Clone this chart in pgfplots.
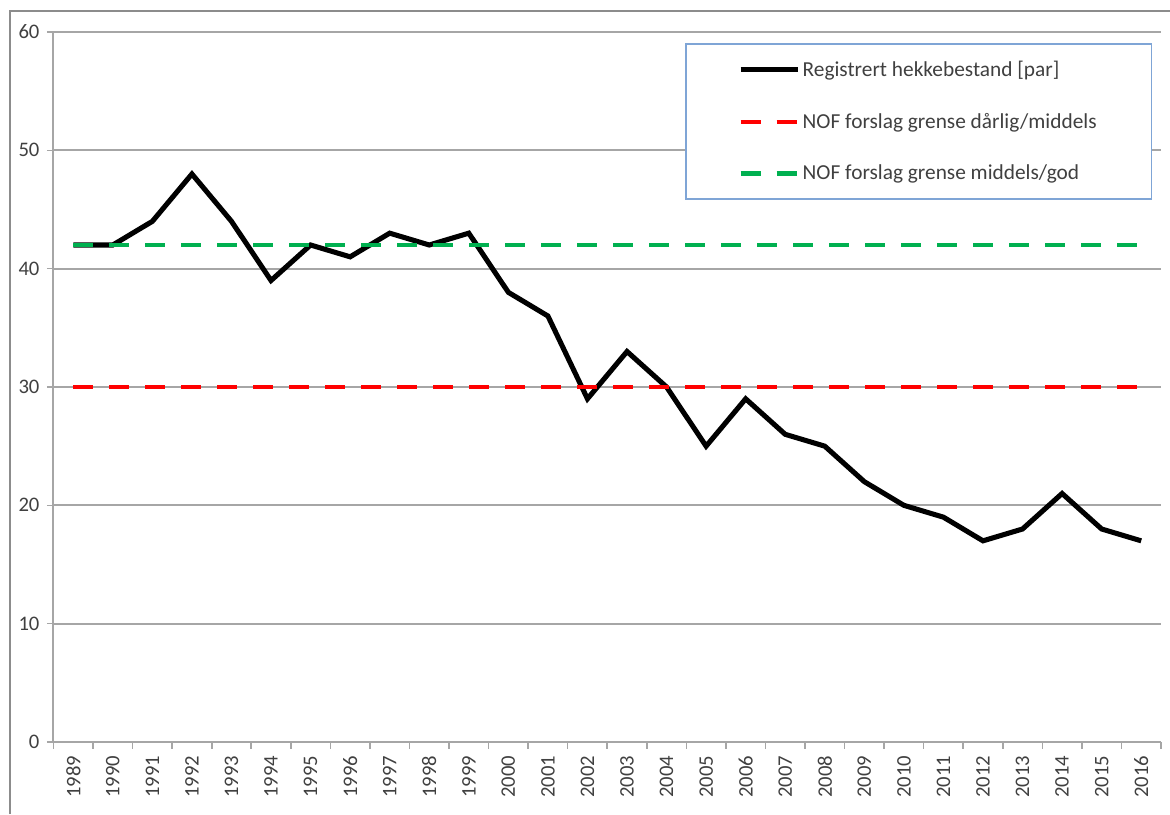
\documentclass[border=0pt]{standalone}
\usepackage{fontspec}
\setmainfont{Carlito}
\usepackage{pgfplots}
\pgfplotsset{compat=1.18}
\definecolor{gridgrey}{HTML}{A6A6A6}
\definecolor{framegrey}{HTML}{8C8C8C}
\definecolor{ticktext}{HTML}{404040}
\definecolor{nofred}{HTML}{FF0000}
\definecolor{nofgreen}{HTML}{00B050}
\definecolor{legendblue}{HTML}{7FA5D6}

\pgfplotstableread{
x year n
0 1989 42
1 1990 42
2 1991 44
3 1992 48
4 1993 44
5 1994 39
6 1995 42
7 1996 41
8 1997 43
9 1998 42
10 1999 43
11 2000 38
12 2001 36
13 2002 29
14 2003 33
15 2004 30
16 2005 25
17 2006 29
18 2007 26
19 2008 25
20 2009 22
21 2010 20
22 2011 19
23 2012 17
24 2013 18
25 2014 21
26 2015 18
27 2016 17
}\hekk

\begin{document}
\begin{tikzpicture}
  \useasboundingbox (0,0) rectangle (877.5pt,610.5pt);
  \draw[framegrey, line width=1.5pt] (7.5pt,0) -- (7.5pt,602.25pt) -- (877.5pt,602.25pt);
  \begin{axis}[
      at={(40.125pt,54pt)}, anchor=south west,
      scale only axis,
      width=830.6pt, height=532.5pt,
      xmin=-0.5, xmax=27.5,
      ymin=0, ymax=60,
      axis lines*=left,
      axis line style={gridgrey, line width=1.5pt},
      xtick={0,...,27},
      xticklabels={1989,1990,1991,1992,1993,1994,1995,1996,1997,1998,1999,2000,2001,2002,2003,2004,2005,2006,2007,2008,2009,2010,2011,2012,2013,2014,2015,2016},
      major x tick style={draw=none},
      minor xtick={-0.5,0.5,...,27.5},
      minor x tick style={gridgrey, line width=1.2pt},
      minor tick length=5pt,
      ytick={0,10,...,60},
      major y tick style={gridgrey, line width=1.2pt},
      major tick length=5pt,
      tick align=outside,
      ymajorgrids,
      major grid style={gridgrey, line width=1.5pt},
      tick label style={font=\fontsize{15.5}{18}\selectfont, text=ticktext},
      x tick label style={rotate=90, anchor=east, xshift=-2pt},
      y tick label style={xshift=-2pt},
      /pgf/number format/assume math mode=true,
      legend style={
        at={(0.992,0.9845)}, anchor=north east,
        draw=legendblue, line width=1.2pt, fill=white,
        font=\fontsize{16}{19}\selectfont, text=ticktext,
        inner xsep=39pt, inner ysep=11pt,
        row sep=22pt,
        cells={anchor=west},
      },
      legend cell align=left,
      legend image code/.code={\draw[#1] (0pt,0pt) -- (42.75pt,0pt);},
      clip=false,
    ]
    \addplot[black, line width=3.8pt, line join=miter] table[x=x, y=n] {\hekk};
    \addlegendentry{Registrert hekkebestand [par]}
    \addplot[nofred, line width=3.2pt, dash pattern=on 15pt off 12pt] coordinates {(0,30) (27,30)};
    \addlegendentry{NOF forslag grense dårlig/middels}
    \addplot[nofgreen, line width=3.2pt, dash pattern=on 15pt off 12pt] coordinates {(0,42) (27,42)};
    \addlegendentry{NOF forslag grense middels/god}
  \end{axis}
\end{tikzpicture}
\end{document}
